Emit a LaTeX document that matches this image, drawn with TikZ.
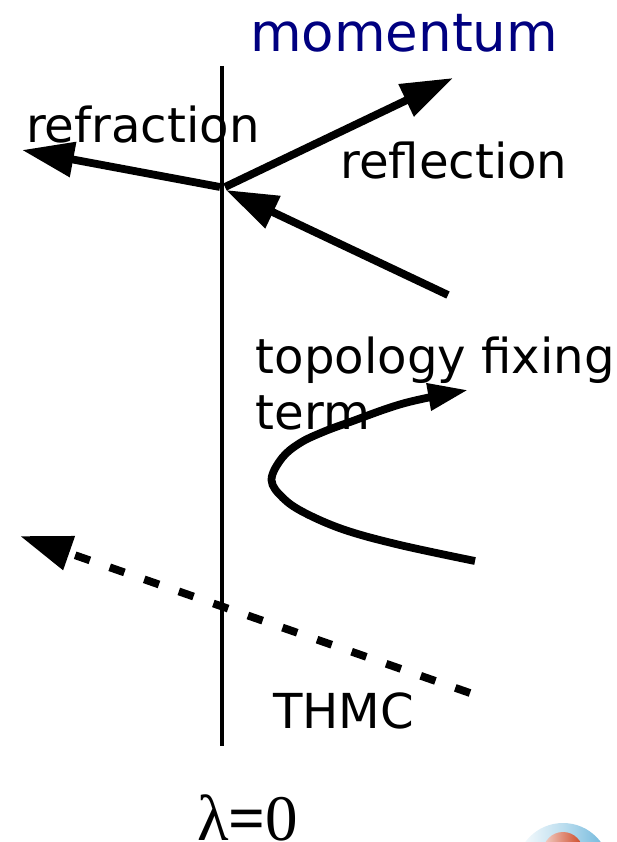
\documentclass[tikz,border=0pt]{standalone}
\usepackage{fontspec}
\setmainfont{DejaVu Sans}
\newfontfamily\lamfont{Liberation Serif}
\usetikzlibrary{arrows.meta}
\definecolor{headnavy}{RGB}{0,0,128}
\definecolor{ballblue}{RGB}{105,180,218}
\definecolor{ballred}{RGB}{205,70,35}
\tikzset{
  x=1pt,y=-1pt,
  label text/.style={anchor=base west,inner sep=0pt,font=\fontsize{48.2}{56}\selectfont},
  big arrow/.style={line width=7.8pt,-{Triangle[length=52pt,width=34pt]}},
  small arrow/.style={line width=7.8pt,-{Triangle[length=40pt,width=26pt]}},
  axis line/.style={line width=4pt}
}
\begin{document}
\begin{tikzpicture}
\useasboundingbox (0,0) rectangle (616,842);
% ball in the corner
\begin{scope}
\clip (0,0) rectangle (616,842);
\shade[left color=white,right color=ballblue,middle color=ballblue!45!white] (563,870) circle (47);
\shade[left color=ballred!25!white,right color=ballred] (563,852) circle (20);
\end{scope}
% anchors
\coordinate (axTop) at (221.5,66);
\coordinate (axBot) at (221.5,746);
\coordinate (refrS) at (220,187);
\coordinate (refrE) at (22,150);
\coordinate (reflS) at (225,187);
\coordinate (reflE) at (453,78);
\coordinate (inS) at (448,295);
\coordinate (inE) at (226,190);
\coordinate (thS) at (470,693);
\coordinate (thE) at (20,536);
% texts
\node[label text,text=headnavy,font=\fontsize{53}{60}\selectfont] (mom) at (250,52) {momentum};
\node[label text] (refr) at (26,143) {refraction};
\node[label text] (refl) at (340,179) {reflection};
\node[label text] (topo) at (255.5,373) {topology fixing};
\node[label text] (term) at (255.5,429) {term};
\node[label text] (thmc) at (273,728) {THMC};
\node[anchor=base west,inner sep=0pt,font=\lamfont\fontsize{65}{70}\selectfont] (lam) at (197,840) {λ{\bfseries =}0};
% lines
\draw[axis line] (axTop) -- (axBot);
\draw[big arrow] (refrS) -- (refrE);
\draw[big arrow] (reflS) -- (reflE);
\draw[big arrow] (inS) -- (inE);
\draw[small arrow] plot[smooth,tension=0.6] coordinates {(475,561) (400,545) (345,530) (305,513) (283,498) (271.5,480) (282,458) (300,443) (323,432) (350,422) (405,403) (468,390)};
\draw[big arrow,dash pattern=on 15.6pt off 21pt] (thS) -- (thE);
\end{tikzpicture}
\end{document}
